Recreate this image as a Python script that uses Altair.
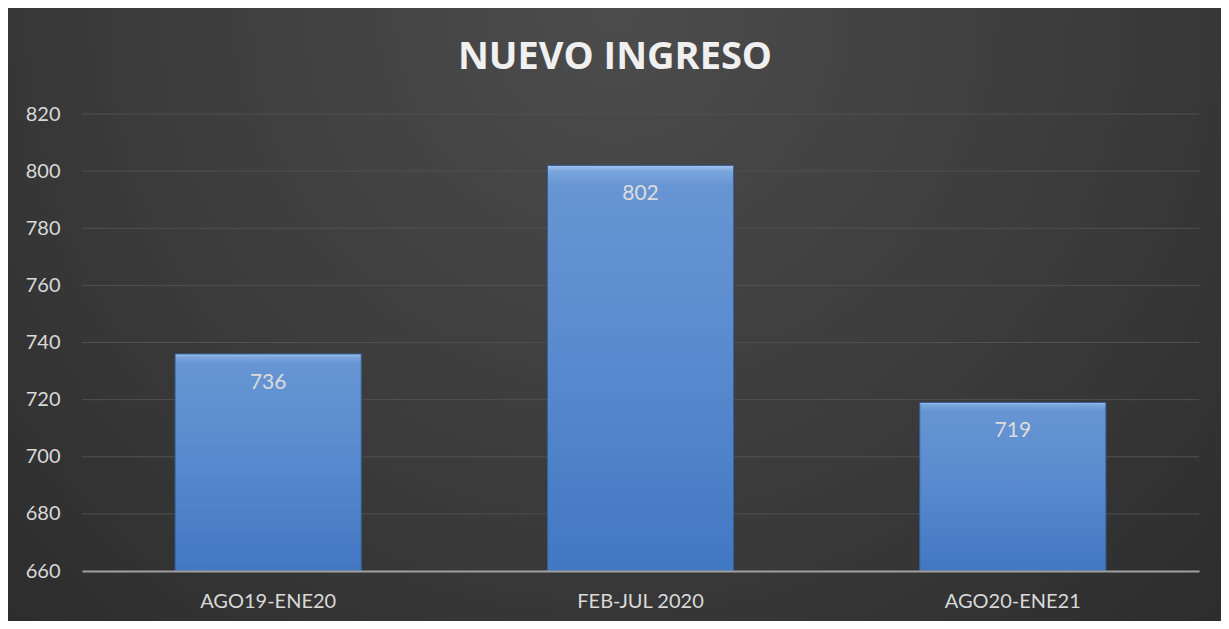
import altair as alt
import pandas as pd

categories = ["AGO19-ENE20", "FEB-JUL 2020", "AGO20-ENE21"]
values = [736, 802, 719]
y_ticks = [660, 680, 700, 720, 740, 760, 780, 800, 820]
title_text = "NUEVO INGRESO"

df = pd.DataFrame({"periodo": categories, "valor": values})
grid_df = pd.DataFrame({"valor": y_ticks[1:]})

W, H = 1117, 457
PL, PT, PR, PB = 74, 106, 22, 50
FONT = "Lato"

bar_fill = alt.Gradient(
    gradient="linear",
    stops=[
        alt.GradientStop(color="#a3c4ee", offset=0),
        alt.GradientStop(color="#7aa5dc", offset=0.015),
        alt.GradientStop(color="#6795d3", offset=0.05),
        alt.GradientStop(color="#5a8bcf", offset=0.45),
        alt.GradientStop(color="#4178c2", offset=1),
    ],
    x1=0, x2=0, y1=0, y2=1,
)

bg_fill = alt.Gradient(
    gradient="radial",
    stops=[
        alt.GradientStop(color="#4c4c4c", offset=0),
        alt.GradientStop(color="#3a3a3a", offset=0.5),
        alt.GradientStop(color="#262626", offset=1),
    ],
    x1=0.5, y1=0.25, r1=0, x2=0.5, y2=0.25, r2=0.85,
)

yscale = alt.Scale(domain=[660, 820], nice=False, zero=False)

background = alt.Chart(alt.Data(values=[{"a": 1}])).mark_rect(
    fill=bg_fill, strokeWidth=0
).encode(
    x=alt.value(-PL), x2=alt.value(W + PR),
    y=alt.value(-PT), y2=alt.value(H + PB),
)

title = alt.Chart(alt.Data(values=[{"t": title_text}])).mark_text(
    font="Open Sans", fontSize=38, fontWeight="bold", color="#f0f0f0",
    align="center", baseline="middle",
).encode(
    x=alt.value(533), y=alt.value(-56), text="t:N",
)

grid = alt.Chart(grid_df).mark_rule(color="#505050", strokeWidth=1).encode(
    y=alt.Y("valor:Q", scale=yscale, title=None),
)

base = alt.Chart(df).encode(
    x=alt.X("periodo:N", sort=categories, title=None,
            scale=alt.Scale(paddingInner=0.5, paddingOuter=0.25),
            axis=alt.Axis(labelAngle=0, labelFontSize=20, labelColor="#d9d9d9",
                          labelFont=FONT, labelPadding=20, ticks=False,
                          domain=True, domainColor="#a0a0a0", domainWidth=2,
                          grid=False, zindex=1)),
)

bars = base.mark_bar(fill=bar_fill, stroke="#355f96", strokeWidth=1).encode(
    y=alt.Y("valor:Q", title=None, scale=yscale,
            axis=alt.Axis(values=y_ticks, labelFontSize=20, labelColor="#d9d9d9",
                          labelFont=FONT, labelPadding=22, ticks=False, domain=False,
                          grid=False, zindex=1)),
    y2=alt.datum(660),
)

labels = base.mark_text(baseline="middle", dy=29, fontSize=21, font=FONT,
                        color="#dcdcdc").encode(
    y=alt.Y("valor:Q"),
    text=alt.Text("valor:Q"),
)

chart = alt.layer(background, title, grid, bars, labels).properties(
    width=W, height=H,
    autosize=alt.AutoSizeParams(type="none"),
    padding={"left": PL, "top": PT, "right": PR, "bottom": PB},
    background="#292929",
).configure_view(stroke=None)

chart.save("out.html", embed_options={"renderer": "svg", "actions": False})
